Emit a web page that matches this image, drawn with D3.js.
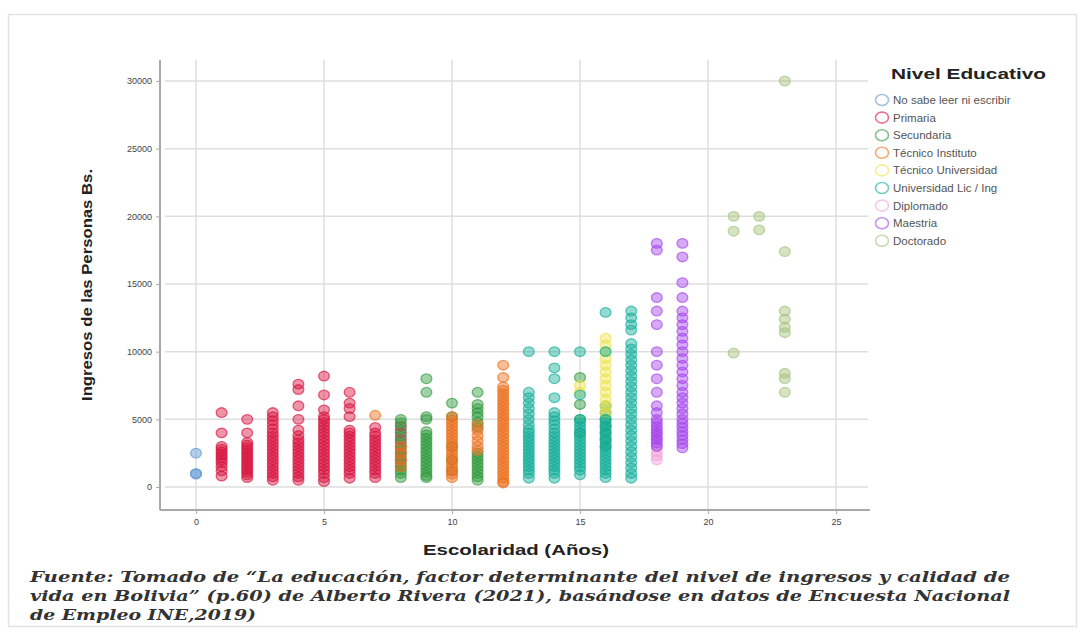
<!DOCTYPE html>
<html>
<head>
<meta charset="utf-8">
<script src="https://cdn.jsdelivr.net/npm/d3@7"></script>
<style>
  body { margin: 0; background: #fff; }
  svg { display: block; }
</style>
</head>
<body>
<script>
"use strict";

// categories (legend order) and colours
const niveles = ["No sabe leer ni escribir", "Primaria", "Secundaria", "Técnico Instituto",
  "Técnico Universidad", "Universidad Lic / Ing", "Diplomado", "Maestria", "Doctorado"];
const colores = ["#5d97d3", "#d8123e", "#2f9a3c", "#ec6f1c", "#eee24a", "#12ae98", "#f3a3dc", "#a443ec", "#a3c27a"];

// each series: [años de escolaridad, [ingresos Bs. ...]]
const noSabe = [[0, [2500, 1000, 950]]];
const primaria = [
  [1, [5500, 4000, 3000, 2800, 2600, 2400, 2200, 2000, 1800, 1500, 1200, 800]],
  [2, [5000, 4000, 3300, 3100, 2900, 2700, 2500, 2300, 2100, 1900, 1700, 1500, 1300, 1100, 900, 700]],
  [3, [5500, 5200, 4900, 4600, 4300, 4000, 3750, 3500, 3250, 3000, 2750, 2500, 2250, 2000, 1750, 1500, 1250, 1000, 750, 500]],
  [4, [7600, 7200, 6000, 5000, 4200, 3800, 3500, 3250, 3000, 2750, 2500, 2250, 2000, 1750, 1500, 1250, 1000, 750, 500]],
  [5, [8200, 6800, 5700, 5200, 5000, 4750, 4500, 4250, 4000, 3750, 3500, 3250, 3000, 2750, 2500, 2250, 2000, 1750, 1500, 1250, 1000, 700, 400]],
  [6, [7000, 6200, 5800, 5200, 4200, 4000, 3750, 3500, 3250, 3000, 2750, 2500, 2250, 2000, 1750, 1500, 1250, 1000, 650]],
  [7, [4400, 4000, 3750, 3500, 3250, 3000, 2750, 2500, 2250, 2000, 1750, 1500, 1250, 1000, 700]],
  [8, [4500, 4000, 3500, 3000, 2500, 2000]]
];
const secundaria = [
  [8, [5000, 4750, 4250, 3750, 3250, 2750, 2250, 1750, 1500, 1250, 1000, 700]],
  [9, [8000, 7000, 5200, 5000, 4100, 3850, 3600, 3350, 3100, 2850, 2600, 2350, 2100, 1850, 1600, 1350, 1100, 850, 700]],
  [10, [6200, 5200, 3000, 2000, 1200]],
  [11, [7000, 6100, 5800, 5500, 5200, 4800, 4400, 2500, 2250, 2000, 1750, 1500, 1250, 1000, 750, 500]],
  [15, [8100, 6100, 5000, 4000]],
  [16, [6000, 5500, 5000, 4500, 4000, 3500, 3000]]
];
const tecInstituto = [
  [7, [5300]],
  [8, [3000, 2500, 2000, 1500]],
  [10, [5200, 4950, 4700, 4450, 4200, 3950, 3700, 3450, 3200, 2950, 2700, 2450, 2200, 1950, 1700, 1450, 1200, 950, 700]],
  [11, [4600, 4200, 3800, 3400, 3000, 2700]],
  [12, [9000, 8100, 7400, 7150, 6900, 6650, 6400, 6150, 5900, 5650, 5400, 5150, 4900, 4650, 4400, 4150, 3900, 3650,
        3400, 3150, 2900, 2650, 2400, 2150, 1900, 1650, 1400, 1150, 900, 650, 400, 300]]
];
const tecUniversidad = [
  [15, [7500, 7000]],
  [16, [11000, 10500, 10000, 9500, 9000, 8500, 8000, 7500, 7000, 6500, 6000, 5500]]
];
const universidad = [
  [13, [10000, 7000, 6600, 6200, 5800, 5400, 5000, 4600, 4250, 4000, 3750, 3500, 3250, 3000, 2750, 2500, 2250, 2000, 1750, 1500, 1250, 1000, 650]],
  [14, [10000, 8800, 8000, 6600, 5500, 5200, 4900, 4600, 4300, 4000, 3750, 3500, 3250, 3000, 2750, 2500, 2250, 2000, 1750, 1500, 1250, 1000, 650]],
  [15, [10000, 6800, 5000, 4750, 4500, 4250, 4000, 3750, 3500, 3250, 3000, 2750, 2500, 2250, 2000, 1750, 1500, 1250, 900]],
  [16, [12900, 10000, 5000, 4750, 4500, 4250, 4000, 3750, 3500, 3250, 3000, 2750, 2500, 2250, 2000, 1750, 1500, 1250, 1000, 700]],
  [17, [13000, 12500, 12000, 11600, 10600, 10200, 9800, 9400, 9000, 8600, 8200, 7800, 7400, 7000, 6600, 6200, 5800,
        5400, 5000, 4600, 4200, 3800, 3400, 3000, 2600, 2200, 1800, 1400, 1000, 650]]
];
const diplomado = [[18, [4000, 3500, 3000, 2600, 2300, 2000]]];
const maestria = [
  [18, [18000, 17500, 14000, 13000, 12000, 10000, 9000, 8000, 7000, 6000, 5500, 5000, 4750, 4500, 4250, 4000, 3750, 3500, 3250, 3000]],
  [19, [18000, 17000, 15100, 14000, 13000, 12500, 12000, 11500, 11000, 10500, 10000, 9500, 9000, 8500, 8000, 7500, 7000,
        6600, 6200, 5800, 5400, 5000, 4700, 4400, 4100, 3800, 3500, 3200, 2900]]
];
const doctorado = [
  [21, [20000, 18900, 9900]],
  [22, [20000, 19000]],
  [23, [30000, 17400, 13000, 12400, 11800, 11400, 8400, 8000, 7000]]
];

const xTicks = [0, 5, 10, 15, 20, 25];
const yTicks = [0, 5000, 10000, 15000, 20000, 25000, 30000];

const fuente = [
  "Fuente: Tomado de “La educación, factor determinante del nivel de ingresos y calidad de",
  "vida en Bolivia” (p.60) de Alberto Rivera (2021), basándose en datos de Encuesta Nacional",
  "de Empleo INE,2019)"
];

const series = [noSabe, primaria, secundaria, tecInstituto, tecUniversidad, universidad, diplomado, maestria, doctorado];

// flatten to points
const puntos = [];
series.forEach(function (s, i) {
  s.forEach(function (col) {
    col[1].forEach(function (v) {
      puntos.push({ nivel: i, anios: col[0], ingreso: v });
    });
  });
});

const W = 1083, H = 635;
const frame = { left: 160, right: 870, top: 60, bottom: 510 };

const svg = d3.select("body").append("svg")
  .attr("width", W).attr("height", H);

// outer border of the screenshot
svg.append("rect")
  .attr("x", 8.5).attr("y", 14.5).attr("width", 1068).attr("height", 612)
  .attr("fill", "none").attr("stroke", "#e2e2e2").attr("stroke-width", 1.5);

const x = d3.scaleLinear().domain([0, 25]).range([196, 836]);
const y = d3.scaleLinear().domain([0, 30000]).range([487, 81]);

// grid
svg.append("g").selectAll("line").data(yTicks).join("line")
  .attr("x1", frame.left + 5).attr("x2", frame.right - 2)
  .attr("y1", d => y(d)).attr("y2", d => y(d))
  .attr("stroke", "#dedede").attr("stroke-width", 1.5);
svg.append("g").selectAll("line").data(xTicks).join("line")
  .attr("x1", d => x(d)).attr("x2", d => x(d))
  .attr("y1", frame.top).attr("y2", frame.bottom)
  .attr("stroke", "#dedede").attr("stroke-width", 1.5);

// axes
const yAxis = svg.append("g")
  .attr("transform", "translate(" + frame.left + ",0)")
  .call(d3.axisLeft(y).tickValues(yTicks).tickSize(4).tickPadding(4).tickFormat(d3.format("d")));
const xAxis = svg.append("g")
  .attr("transform", "translate(0," + frame.bottom + ")")
  .call(d3.axisBottom(x).tickValues(xTicks).tickSize(4).tickPadding(5));
[yAxis, xAxis].forEach(function (a) {
  a.select(".domain").remove();
  a.selectAll(".tick line").attr("stroke", "#aaa");
  a.selectAll("text").attr("fill", "#444")
    .style("font-family", "Liberation Sans, Arial, sans-serif").style("font-size", "9px");
});
svg.append("line")
  .attr("x1", frame.left).attr("x2", frame.left).attr("y1", frame.top).attr("y2", frame.bottom)
  .attr("stroke", "#a8a8a8").attr("stroke-width", 2);
svg.append("line")
  .attr("x1", frame.left).attr("x2", frame.right).attr("y1", frame.bottom).attr("y2", frame.bottom)
  .attr("stroke", "#a8a8a8").attr("stroke-width", 2);

// points
svg.append("g").selectAll("ellipse").data(puntos).join("ellipse")
  .attr("cx", d => x(d.anios))
  .attr("cy", d => y(d.ingreso))
  .attr("rx", 5.4).attr("ry", 4.8)
  .attr("fill", d => colores[d.nivel]).attr("fill-opacity", 0.45)
  .attr("stroke", d => colores[d.nivel]).attr("stroke-opacity", 0.65).attr("stroke-width", 1.3);

// axis titles
svg.append("text")
  .attr("transform", "translate(92,285) rotate(-90)")
  .attr("text-anchor", "middle")
  .attr("textLength", 232).attr("lengthAdjust", "spacingAndGlyphs")
  .style("font-family", "Liberation Sans, Arial, sans-serif").style("font-weight", "bold").style("font-size", "14px")
  .attr("fill", "#222")
  .text("Ingresos de las Personas Bs.");
svg.append("text")
  .attr("x", 516).attr("y", 555)
  .attr("text-anchor", "middle")
  .attr("textLength", 186).attr("lengthAdjust", "spacingAndGlyphs")
  .style("font-family", "Liberation Sans, Arial, sans-serif").style("font-weight", "bold").style("font-size", "15px")
  .attr("fill", "#222")
  .text("Escolaridad (Años)");

// legend
const leg = svg.append("g");
leg.append("text")
  .attr("x", 891).attr("y", 79)
  .attr("textLength", 155).attr("lengthAdjust", "spacingAndGlyphs")
  .style("font-family", "Liberation Sans, Arial, sans-serif").style("font-weight", "bold").style("font-size", "14px")
  .attr("fill", "#222")
  .text("Nivel Educativo");
const items = leg.selectAll("g.item").data(niveles).join("g")
  .attr("class", "item")
  .attr("transform", (d, i) => "translate(882," + (100 + i * 17.6) + ")");
items.append("ellipse")
  .attr("rx", 6.5).attr("ry", 5.5)
  .attr("fill", "none")
  .attr("stroke", (d, i) => colores[i]).attr("stroke-opacity", 0.6).attr("stroke-width", 1.6);
items.append("text")
  .attr("x", 11).attr("y", 4)
  .style("font-family", "Liberation Sans, Arial, sans-serif").style("font-size", "11.5px")
  .attr("fill", "#555")
  .text(d => d);

// source note
svg.append("g").selectAll("text").data(fuente).join("text")
  .attr("x", 30)
  .attr("y", (d, i) => 582 + i * 19)
  .attr("textLength", (d, i) => i < 2 ? 980 : 226)
  .attr("lengthAdjust", "spacingAndGlyphs")
  .style("font-family", "DejaVu Serif, serif").style("font-style", "italic").style("font-weight", "bold")
  .style("font-size", "14.5px")
  .attr("fill", "#333")
  .text(d => d);
</script>
</body>
</html>
